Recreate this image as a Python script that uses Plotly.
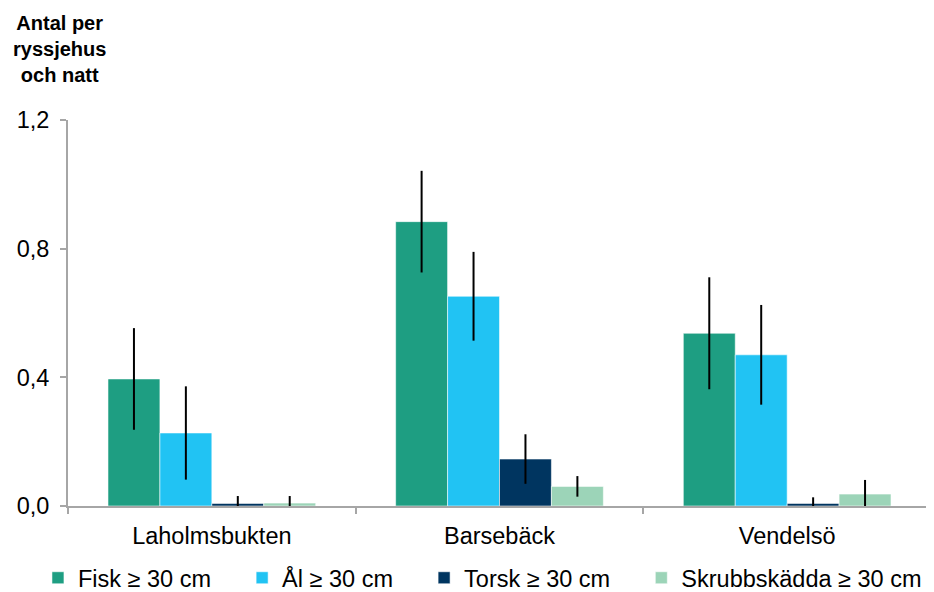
import plotly.graph_objects as go

categories = ["Laholmsbukten", "Barsebäck", "Vendelsö"]
series_names = ["Fisk ≥ 30 cm", "Ål ≥ 30 cm", "Torsk ≥ 30 cm", "Skrubbskädda ≥ 30 cm"]

fisk = [0.395, 0.884, 0.537]
fisk_err = [0.158, 0.158, 0.174]
al = [0.227, 0.652, 0.470]
al_err = [0.145, 0.138, 0.155]
torsk = [0.008, 0.146, 0.008]
torsk_err = [0.023, 0.077, 0.019]
skrubb = [0.009, 0.061, 0.037]
skrubb_err = [0.022, 0.032, 0.044]

y_ticks = [0.0, 0.4, 0.8, 1.2]
y_ticklabels = ["0,0", "0,4", "0,8", "1,2"]

colors = ["#1E9E82", "#21C3F3", "#003560", "#9CD4B8"]
values = [fisk, al, torsk, skrubb]
errors = [fisk_err, al_err, torsk_err, skrubb_err]

FONT = "Arial, 'Liberation Sans', sans-serif"
FS = 23.5
PAD = "\u00a0" * 4  # spacing between legend entries

fig = go.Figure()
for i, (name, vals, errs, col) in enumerate(zip(series_names, values, errors, colors)):
    label = name + (PAD if i < len(series_names) - 1 else "")
    fig.add_trace(go.Bar(
        x=categories, y=vals, name=label,
        marker=dict(color=col, line=dict(color="rgba(255,255,255,0.55)", width=1)),
        error_y=dict(type="data", array=errs, visible=True, color="black",
                     thickness=2, width=0),
    ))

# page body has an 8px margin, so the figure is 8px smaller than the window
fig.update_layout(
    width=926, height=584,
    margin=dict(l=60, r=3, t=112, b=86, autoexpand=False),
    paper_bgcolor="white", plot_bgcolor="white",
    barmode="group", bargap=0.278, bargroupgap=0,
    font=dict(family=FONT, size=FS, color="black"),
    showlegend=True,
    legend=dict(orientation="h", x=-0.0348, xanchor="left",
                y=-0.1865, yanchor="middle",
                font=dict(family=FONT, size=FS, color="black"),
                itemclick=False, traceorder="normal"),
    xaxis=dict(showline=True, linecolor="#A6A6A6", linewidth=2,
               ticks="outside", tickson="boundaries", ticklen=6, tickcolor="#A6A6A6",
               tickwidth=2, ticklabelstandoff=8, showgrid=False, automargin=False,
               tickfont=dict(family=FONT, size=FS, color="black")),
    yaxis=dict(range=[0, 1.2], tickvals=y_ticks, ticktext=y_ticklabels,
               showline=True, linecolor="#A6A6A6", linewidth=2,
               ticks="outside", ticklen=6, tickcolor="#A6A6A6", tickwidth=2,
               ticklabelstandoff=6, showgrid=False, zeroline=False, automargin=False,
               tickfont=dict(family=FONT, size=FS, color="black")),
    annotations=[dict(text="<b>Antal per<br>ryssjehus<br>och natt</b>",
                      xref="paper", yref="paper", x=-0.0093, y=1.285,
                      xanchor="center", yanchor="top", showarrow=False,
                      font=dict(family=FONT, size=20, color="black"))],
)

fig.write_html("out.html")
